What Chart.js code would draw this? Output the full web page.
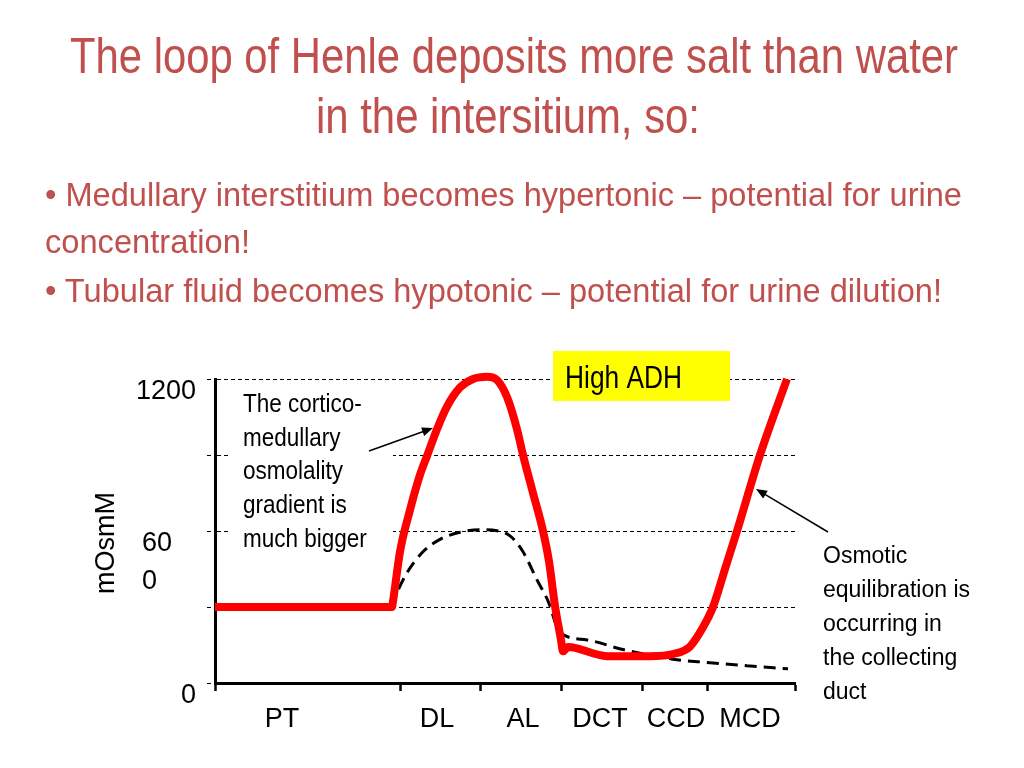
<html>
<head>
<title>Loop of Henle - High ADH</title>
<script src="https://cdn.jsdelivr.net/npm/chart.js"></script>
<style>
    body { margin: 0; background: #fff; overflow: hidden; }
    #chart { position: absolute; left: 0; top: 0; }
    .txt {
        position: absolute;
        white-space: nowrap;
        font-family: "Liberation Sans", Arial, sans-serif;
        color: #C0504D;
        transform-origin: 0 0;
    }
</style>
</head>
<body>
<canvas id="chart" width="1024" height="768"></canvas>
<div id="texts"></div>

<script>
// segments of the nephron along the x axis
const segEdges = [0, 185, 265, 346, 427, 492, 580];
const segNames = ['PT', 'DL', 'AL', 'DCT', 'CCD', 'MCD'];
const segLabelAt = [67, 222, 308, 385, 461, 535];

// tubular fluid osmolality, high ADH (red)
const redX = [0, 177, 178, 185, 195, 205, 212, 222, 232, 245, 258, 272, 282, 292, 302, 308, 318, 328, 334, 340, 346, 348, 353, 392, 435, 458, 475, 488, 498, 510, 522, 545, 572];
const redY = [300, 300, 322, 518, 683, 822, 896, 1002, 1091, 1166, 1200, 1209, 1196, 1129, 1002, 900, 750, 600, 480, 304, 170, 125, 142, 106, 106, 114, 144, 220, 300, 450, 600, 900, 1200];

// interstitium gradient without high ADH (dashed)
const dashX = [177, 180, 192, 208, 225, 245, 265, 282, 295, 308, 322, 333, 345, 372, 408, 458, 492, 532, 573];
const dashY = [300, 337, 435, 518, 567, 595, 605, 601, 581, 518, 407, 324, 200, 170, 132, 94, 81, 68, 56];

const yMax = 1200;
const yStep = 300;

const corticoLines = ['The cortico-', 'medullary', 'osmolality', 'gradient is', 'much bigger'];
const osmoticLines = ['Osmotic', 'equilibration is', 'occurring in', 'the collecting', 'duct'];
const adhLabel = 'High ADH';

// ---- slide text (html) ----
const texts = document.getElementById('texts');
function place(text, x, baseline, width, size) {
    const d = document.createElement('div');
    d.className = 'txt';
    d.textContent = text;
    d.style.fontSize = size + 'px';
    d.style.lineHeight = size + 'px';
    d.style.left = x + 'px';
    d.style.top = (baseline - 0.8465 * size) + 'px';
    texts.appendChild(d);
    const w = d.getBoundingClientRect().width;
    d.style.transform = 'scaleX(' + (width / w) + ')';
}
place('The loop of Henle deposits more salt than water', 70, 73, 888, 50);
place('in the intersitium, so:', 316, 133, 384, 50);
place('\u2022 Medullary interstitium becomes hypertonic \u2013 potential for urine', 45, 206, 917, 33);
place('concentration!', 45, 253, 205, 33);
place('\u2022 Tubular fluid becomes hypotonic \u2013 potential for urine dilution!', 45, 302, 897, 33);

// ---- annotations drawn on the chart canvas ----
const FONT = '"Liberation Sans", Arial, sans-serif';

function drawLines(c, lines, x, y0, dy, size, sx) {
    c.font = size + 'px ' + FONT;
    c.fillStyle = '#000';
    c.textBaseline = 'alphabetic';
    c.textAlign = 'left';
    lines.forEach((line, i) => {
        c.save();
        c.translate(x, y0 + i * dy);
        c.scale(sx, 1);
        c.fillText(line, 0, 0);
        c.restore();
    });
}

function arrow(c, x1, y1, x2, y2) {
    const a = Math.atan2(y2 - y1, x2 - x1);
    c.strokeStyle = '#000';
    c.fillStyle = '#000';
    c.lineWidth = 1.5;
    c.beginPath();
    c.moveTo(x1, y1);
    c.lineTo(x2 - 8 * Math.cos(a), y2 - 8 * Math.sin(a));
    c.stroke();
    c.beginPath();
    c.moveTo(x2, y2);
    c.lineTo(x2 - 11 * Math.cos(a) + 4.5 * Math.sin(a), y2 - 11 * Math.sin(a) - 4.5 * Math.cos(a));
    c.lineTo(x2 - 11 * Math.cos(a) - 4.5 * Math.sin(a), y2 - 11 * Math.sin(a) + 4.5 * Math.cos(a));
    c.closePath();
    c.fill();
}

const notes = {
    id: 'notes',
    beforeDatasetsDraw(chart) {
        const c = chart.ctx;
        c.save();
        c.fillStyle = '#fff';
        c.fillRect(229, 384, 164, 172);
        c.fillStyle = '#ffff00';
        c.fillRect(553, 351, 177, 50);
        c.restore();
    },
    afterDatasetsDraw(chart) {
        const c = chart.ctx;
        c.save();
        drawLines(c, corticoLines, 243, 412, 33.7, 25, 0.9);
        drawLines(c, [adhLabel], 565, 388, 0, 31, 0.85);
        drawLines(c, osmoticLines, 823, 563, 34, 23, 1);
        arrow(c, 369, 451, 433, 428);
        arrow(c, 828, 532, 756, 489);
        c.restore();
    }
};

const xTicks = segEdges.concat(segLabelAt).sort((a, b) => a - b);

new Chart(document.getElementById('chart'), {
    type: 'line',
    data: {
        datasets: [
            {
                data: redX.map((x, i) => ({ x: x, y: redY[i] })),
                borderColor: '#ff0000',
                borderWidth: 8,
                pointRadius: 0,
                cubicInterpolationMode: 'monotone',
                borderJoinStyle: 'round',
                clip: false
            },
            {
                data: dashX.map((x, i) => ({ x: x, y: dashY[i] })),
                borderColor: '#000',
                borderWidth: 3,
                borderDash: [12, 7],
                pointRadius: 0,
                cubicInterpolationMode: 'monotone',
                clip: false
            }
        ]
    },
    options: {
        responsive: false,
        animation: false,
        layout: { padding: { top: 379, left: 0, right: 229, bottom: 0 } },
        plugins: { legend: { display: false }, tooltip: { enabled: false } },
        scales: {
            x: {
                type: 'linear',
                min: 0,
                max: 580,
                afterBuildTicks: scale => { scale.ticks = xTicks.map(v => ({ value: v })); },
                afterFit: scale => { scale.height = 85; },
                border: { color: '#000', width: 3 },
                grid: {
                    drawOnChartArea: false,
                    tickLength: 8,
                    tickWidth: 2.5,
                    tickColor: ctx => (ctx.tick && segEdges.includes(ctx.tick.value)) ? '#000' : 'rgba(0,0,0,0)'
                },
                ticks: {
                    autoSkip: false,
                    maxRotation: 0,
                    padding: 12,
                    color: '#000',
                    font: { family: FONT, size: 27 },
                    callback: v => {
                        const i = segLabelAt.indexOf(v);
                        return i >= 0 ? segNames[i] : '';
                    }
                }
            },
            y: {
                min: 0,
                max: yMax,
                afterFit: scale => { scale.width = 215; },
                border: { color: '#000', width: 3, dash: [4, 3] },
                grid: {
                    color: '#000',
                    lineWidth: 1,
                    tickLength: 8,
                    tickColor: '#000',
                    tickBorderDash: [4, 3]
                },
                title: {
                    display: true,
                    text: 'mOsmM\u2007\u2004',
                    color: '#000',
                    font: { family: FONT, size: 27 },
                    padding: { top: 90, bottom: 0 }
                },
                ticks: {
                    stepSize: yStep,
                    autoSkip: false,
                    padding: 11,
                    labelOffset: 13,
                    color: '#000',
                    font: { family: FONT, size: 27, lineHeight: 1.4 },
                    callback: v => {
                        if (v === 1200) return '1200';
                        if (v === 600) return ['', '60\u2007\u2004', '0\u2007\u2007\u2004'];
                        if (v === 0) return '0';
                        return '';
                    }
                }
            }
        }
    },
    plugins: [notes]
});
</script>
</body>
</html>
